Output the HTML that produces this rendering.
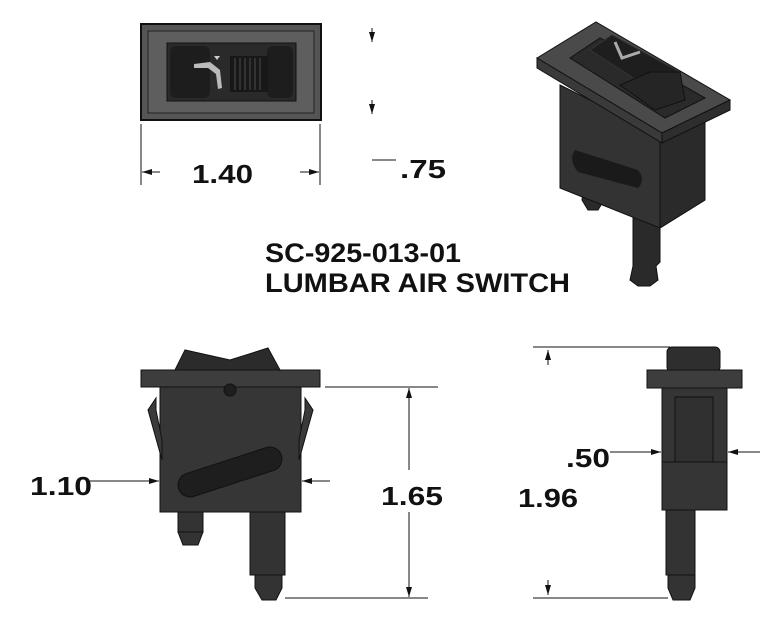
<!DOCTYPE html>
<html><head><style>
html,body{margin:0;padding:0;background:#fff;}
svg{display:block;}
text{font-family:"Liberation Sans",sans-serif;font-weight:bold;fill:#111;}
</style></head><body>
<svg width="780" height="628" viewBox="0 0 780 628" xmlns="http://www.w3.org/2000/svg">
<defs>
<marker id="a" markerWidth="10" markerHeight="6" refX="10" refY="3" orient="auto" markerUnits="userSpaceOnUse"><path d="M0,0 L10,3 L0,6z" fill="#111"/></marker>
</defs>
<!-- TOP VIEW -->
<rect x="141" y="24" width="180" height="96" fill="#555" stroke="#111" stroke-width="2"/>
<rect x="148" y="31" width="166" height="82" fill="#5e5e5e" stroke="#222"/>
<rect x="167" y="43" width="129" height="58" fill="#2a2a2a" stroke="#111"/>
<rect x="170" y="46" width="40" height="52" rx="6" fill="#1d1d1d"/>
<rect x="267" y="46" width="26" height="52" rx="6" fill="#1d1d1d"/>
<rect x="230" y="56" width="38" height="36" fill="#181818"/>
<g stroke="#444" stroke-width="1.2"><line x1="235" y1="58" x2="235" y2="90"/><line x1="240" y1="58" x2="240" y2="90"/><line x1="245" y1="58" x2="245" y2="90"/><line x1="250" y1="58" x2="250" y2="90"/><line x1="255" y1="58" x2="255" y2="90"/><line x1="260" y1="58" x2="260" y2="90"/></g>
<path d="M194,64 L210,62 L220,70 L222,88 L218,89 L216,74 L208,68 L194,68z" fill="#bbb"/>
<path d="M214,56 L220,56 L217,60z" fill="#ccc"/>
<!-- 1.40 dim -->
<g stroke="#111" stroke-width="1"><line x1="141" y1="124" x2="141" y2="185"/><line x1="320" y1="124" x2="320" y2="185"/>
<line x1="160" y1="172" x2="142" y2="172" marker-end="url(#a)"/><line x1="300" y1="172" x2="319" y2="172" marker-end="url(#a)"/>
<line x1="372" y1="28" x2="372" y2="42" marker-end="url(#a)"/><line x1="372" y1="100" x2="372" y2="114" marker-end="url(#a)"/>
<line x1="372" y1="160" x2="396" y2="160"/></g>
<text x="192" y="183" font-size="26" textLength="61" lengthAdjust="spacingAndGlyphs">1.40</text>
<text x="400" y="178" font-size="26" textLength="46" lengthAdjust="spacingAndGlyphs">.75</text>
<!-- TITLE -->
<text x="265" y="262" font-size="27" textLength="196" lengthAdjust="spacingAndGlyphs">SC-925-013-01</text>
<text x="265" y="292" font-size="27" textLength="305" lengthAdjust="spacingAndGlyphs">LUMBAR AIR SWITCH</text>
<!-- ISO VIEW -->
<path d="M584,185 L602,185 L604,200 L598,210 L588,210 L582,200z" fill="#2b2b2b" stroke="#111"/>
<path d="M633,210 L660,205 L660,262 L656,266 L658,280 L650,286 L638,286 L630,280 L633,266z" fill="#2a2a2a" stroke="#111"/>
<path d="M560,85 L660,135 L705,118 L705,200 L660,228 L560,188z" fill="#333" stroke="#111"/>
<path d="M660,135 L705,118 L705,200 L660,228z" fill="#2a2a2a" stroke="#111"/>
<path d="M575,150 L638,170 Q646,180 638,188 L578,172 Q568,160 575,150z" fill="#1a1a1a"/>
<path d="M537,58 L596,22 L730,100 L662,133z" fill="#4a4a4a" stroke="#111"/>
<path d="M537,58 L662,133 L662,143 L537,68z" fill="#3a3a3a" stroke="#111"/>
<path d="M662,133 L730,100 L730,110 L662,143z" fill="#2e2e2e" stroke="#111"/>
<path d="M570,58 L600,38 L705,98 L665,118z" fill="#2a2a2a" stroke="#111"/>
<path d="M590,50 L612,35 L680,72 L660,95z" fill="#1e1e1e" stroke="#333"/>
<path d="M620,85 L650,72 L680,72 L685,100 L655,110z" fill="#252525" stroke="#111"/>
<path d="M615,42 L622,58 L640,52" stroke="#aaa" stroke-width="3" fill="none"/>
<!-- FRONT VIEW -->
<path d="M175,370 L185,350 L230,360 L268,348 L280,370z" fill="#2b2b2b" stroke="#111"/>
<rect x="178" y="512" width="25" height="20" fill="#333" stroke="#111"/>
<path d="M178,532 L203,532 L198,545 L183,545z" fill="#333" stroke="#111"/>
<rect x="250" y="512" width="35" height="63" fill="#333" stroke="#111"/>
<path d="M255,575 L282,575 L282,588 L276,600 L262,600 L255,588z" fill="#333" stroke="#111"/>
<rect x="160" y="387" width="141" height="125" fill="#363636" stroke="#111"/>
<path d="M156,398 L148,410 L162,460 L162,440 L156,410z" fill="#3a3a3a" stroke="#111"/>
<path d="M305,398 L313,410 L299,460 L299,440 L305,410z" fill="#3a3a3a" stroke="#111"/>
<rect x="141" y="370" width="179" height="17" fill="#3d3d3d" stroke="#111"/>
<circle cx="230" cy="390" r="6" fill="#1e1e1e" stroke="#111"/>
<rect x="176" y="460" width="108" height="24" rx="12" transform="rotate(-18 230 472)" fill="#1e1e1e" stroke="#111"/>
<g stroke="#111" stroke-width="1">
<line x1="90" y1="481" x2="159" y2="481" marker-end="url(#a)"/><line x1="330" y1="481" x2="302" y2="481" marker-end="url(#a)"/>
<line x1="325" y1="387" x2="438" y2="387"/><line x1="285" y1="598" x2="428" y2="598"/>
<line x1="409" y1="470" x2="409" y2="388" marker-end="url(#a)"/><line x1="409" y1="512" x2="409" y2="597" marker-end="url(#a)"/>
</g>
<text x="30" y="495" font-size="26" textLength="62" lengthAdjust="spacingAndGlyphs">1.10</text>
<text x="381" y="505" font-size="26" textLength="62" lengthAdjust="spacingAndGlyphs">1.65</text>
<!-- SIDE VIEW -->
<rect x="667" y="347" width="53" height="25" rx="5" fill="#2e2e2e" stroke="#111"/>
<rect x="666" y="510" width="29" height="65" fill="#333" stroke="#111"/>
<path d="M668,575 L695,575 L695,588 L690,600 L673,600 L668,588z" fill="#333" stroke="#111"/>
<rect x="662" y="388" width="65" height="122" fill="#353535" stroke="#111"/>
<rect x="675" y="397" width="38" height="65" fill="#303030" stroke="#111"/>
<line x1="662" y1="462" x2="727" y2="462" stroke="#111"/>
<rect x="647" y="370" width="95" height="18" fill="#3d3d3d" stroke="#111"/>
<g stroke="#111" stroke-width="1">
<line x1="533" y1="347" x2="670" y2="347"/><line x1="533" y1="598" x2="668" y2="598"/>
<line x1="548" y1="365" x2="548" y2="350" marker-end="url(#a)"/><line x1="548" y1="580" x2="548" y2="595" marker-end="url(#a)"/>
<line x1="610" y1="452" x2="661" y2="452" marker-end="url(#a)"/><line x1="760" y1="452" x2="728" y2="452" marker-end="url(#a)"/>
</g>
<text x="566" y="467" font-size="26" textLength="44" lengthAdjust="spacingAndGlyphs">.50</text>
<text x="518" y="507" font-size="26" textLength="60" lengthAdjust="spacingAndGlyphs">1.96</text>
</svg>
</body></html>
